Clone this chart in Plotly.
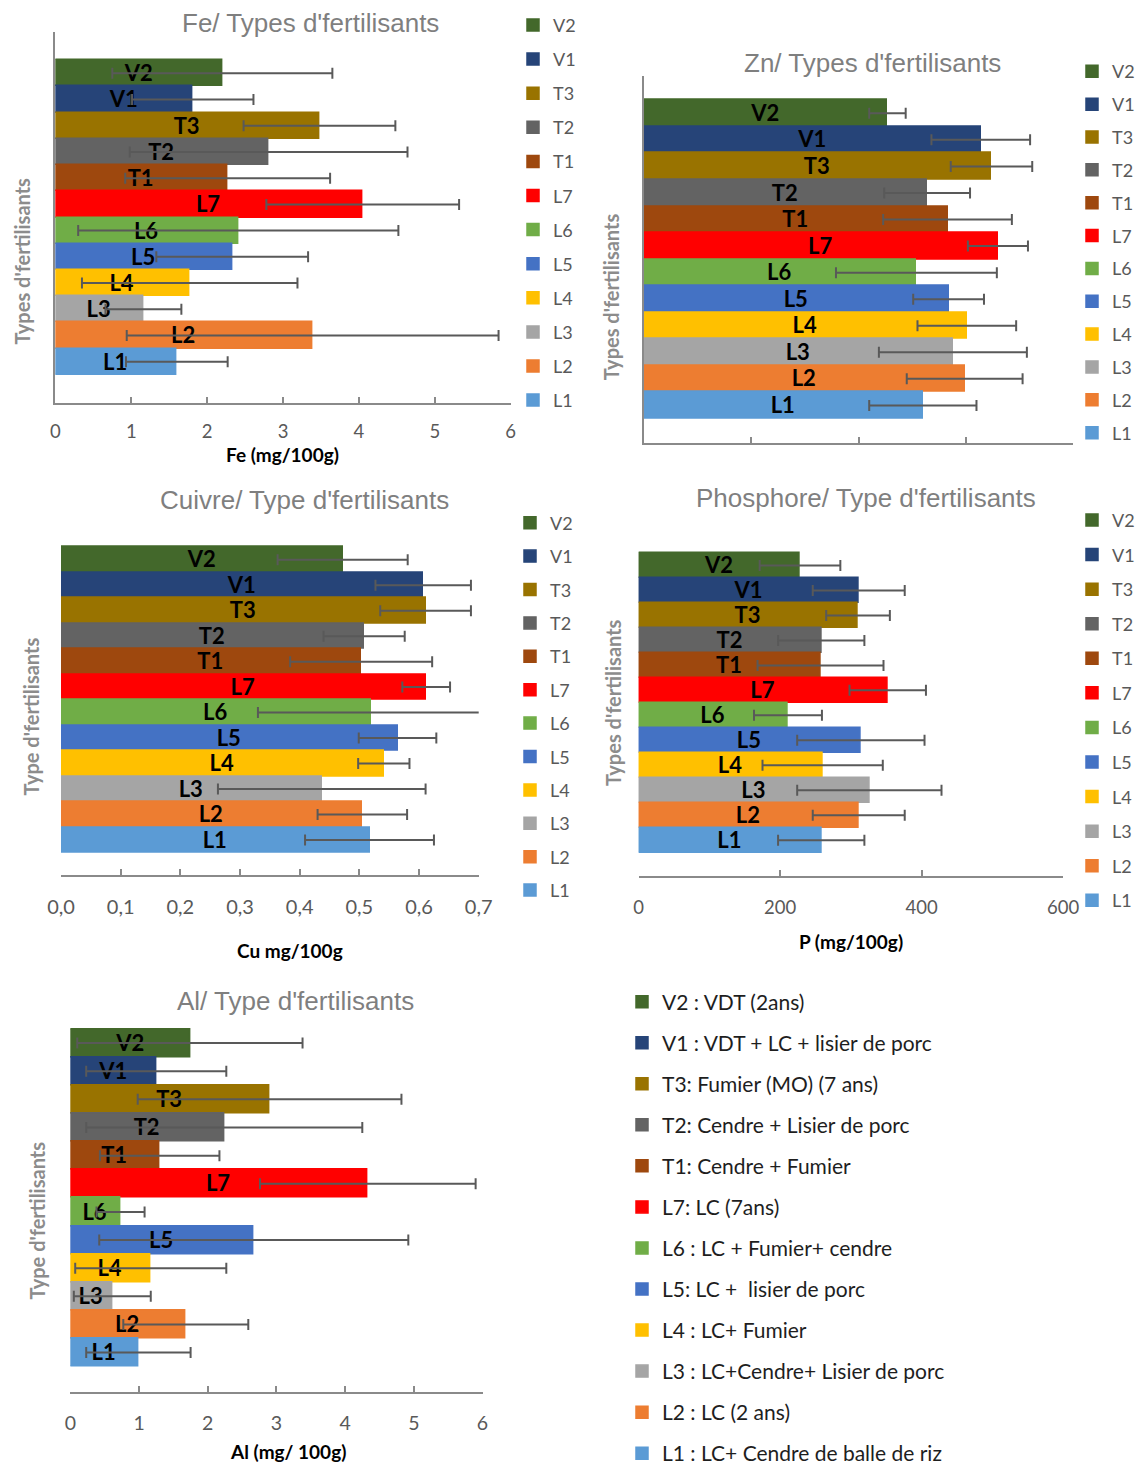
import plotly.graph_objects as go

# ---- data -----------------------------------------------------------------
codes = ["V2", "V1", "T3", "T2", "T1", "L7", "L6", "L5", "L4", "L3", "L2", "L1"]
colors = ["#43682B", "#264478", "#997300", "#636363", "#9E480E", "#FF0000",
          "#70AD47", "#4472C4", "#FFC000", "#A5A5A5", "#ED7D31", "#5B9BD5"]
descriptions = [
    "V2 : VDT (2ans)",
    "V1 : VDT + LC + lisier de porc",
    "T3: Fumier (MO) (7 ans)",
    "T2: Cendre + Lisier de porc",
    "T1: Cendre + Fumier",
    "L7: LC (7ans)",
    "L6 : LC + Fumier+ cendre",
    "L5: LC + \u00a0lisier de porc",
    "L4 : LC+ Fumier",
    "L3 : LC+Cendre+ Lisier de porc",
    "L2 : LC (2 ans)",
    "L1 : LC+ Cendre de balle de riz",
]

fe_mean = [2.20, 1.81, 3.48, 2.81, 2.27, 4.05, 2.41, 2.33, 1.77, 1.16, 3.39, 1.60]
fe_err = [1.45, 0.80, 1.00, 1.83, 1.35, 1.27, 2.11, 1.00, 1.42, 0.50, 2.45, 0.67]

zn_mean = [2.27, 3.14, 3.24, 2.64, 2.83, 3.30, 2.54, 2.84, 3.01, 2.88, 2.99, 2.60]
zn_err = [0.17, 0.46, 0.38, 0.40, 0.60, 0.28, 0.75, 0.33, 0.46, 0.69, 0.54, 0.50]

cu_mean = [0.472, 0.607, 0.611, 0.508, 0.503, 0.612, 0.519, 0.564, 0.541, 0.437, 0.505, 0.517]
cu_err = [0.109, 0.080, 0.076, 0.068, 0.119, 0.040, 0.189, 0.065, 0.043, 0.174, 0.075, 0.108]

p_mean = [228, 311, 310, 258, 257, 352, 211, 314, 260, 326, 311, 258]
p_err = [57, 65, 45, 61, 89, 54, 48, 90, 85, 102, 65, 61]

al_mean = [1.74, 1.25, 2.90, 2.24, 1.30, 4.33, 0.73, 2.67, 1.17, 0.61, 1.68, 0.99]
al_err = [1.64, 1.02, 1.92, 2.01, 0.87, 1.57, 0.35, 2.25, 1.10, 0.56, 0.91, 0.76]

# ---- page geometry --------------------------------------------------------
W, H = 1136, 1463
CAL = "Lato, Carlito, sans-serif"
ARIAL = "Liberation Sans, Arial, sans-serif"
AXIS_GREY = "#8a8a8a"
TICK_GREY = "#595959"
TITLE_GREY = "#7f7f7f"


def px_x(v):
    return v / W


def px_y(v):
    return 1 - v / H


panels = [
    dict(key="fe", mean=fe_mean, err=fe_err, box=(55.4, 32, 510.7, 403), pad=1.07,
         xrange=[0, 6], dtick=1, fmt="", ticksize=18.5, standoff=11, showlabels=True,
         yline=True,
         title="Fe/ Types d'fertilisants", title_xy=(310.5, 23),
         ytitle="Types d'fertilisants", ytitle_xy=(21, 261.5),
         xtitle="Fe (mg/100g)", xtitle_xy=(282.6, 454),
         legend=dict(left=513, top=6.8, gap=7.7), descr=False),
    dict(key="zn", mean=zn_mean, err=zn_err, box=(644, 75.7, 1073, 443), pad=0.915,
         xrange=[0, 4], dtick=1, fmt="", ticksize=18.5, standoff=12, showlabels=False,
         yline=True,
         title="Zn/ Types d'fertilisants", title_xy=(872.5, 63),
         ytitle="Types d'fertilisants", ytitle_xy=(610.5, 296.7),
         xtitle=None, xtitle_xy=None,
         legend=dict(left=1072, top=53.1, gap=6.45), descr=False),
    dict(key="cu", mean=cu_mean, err=cu_err, box=(61, 524.7, 478.7, 875), pad=0.875,
         xrange=[0, 0.7], dtick=0.1, fmt=".1f", ticksize=20, standoff=13, showlabels=True,
         yline=False,
         title="Cuivre/ Type d'fertilisants", title_xy=(304, 500),
         ytitle="Type d'fertilisants", ytitle_xy=(31.4, 716),
         xtitle="Cu mg/100g", xtitle_xy=(290, 950),
         legend=dict(left=510, top=504.5, gap=7.0), descr=False),
    dict(key="p", mean=p_mean, err=p_err, box=(638.7, 530, 1063.2, 875.7), pad=0.92,
         xrange=[0, 600], dtick=200, fmt="", ticksize=18.5, standoff=14, showlabels=True,
         yline=False,
         title="Phosphore/ Type d'fertilisants", title_xy=(865.5, 498),
         ytitle="Types d'fertilisants", ytitle_xy=(613, 703),
         xtitle="P (mg/100g)", xtitle_xy=(851, 941.7),
         legend=dict(left=1072, top=501.8, gap=8.17), descr=False),
    dict(key="al", mean=al_mean, err=al_err, box=(70.4, 1003.4, 482.5, 1392.3), pad=0.91,
         xrange=[0, 6], dtick=1, fmt="", ticksize=19.5, standoff=12, showlabels=True,
         yline=False,
         title="Al/ Type d'fertilisants", title_xy=(295.5, 1001),
         ytitle="Type d'fertilisants", ytitle_xy=(36.6, 1221),
         xtitle="Al (mg/ 100g)", xtitle_xy=(288, 1451.5),
         legend=dict(left=622, top=981.5, gap=10.75), descr=True),
]

fig = go.Figure()
layout_axes = {}
legends = {}
annotations = []

for i, p in enumerate(panels):
    n = i + 1
    sfx = "" if n == 1 else str(n)
    legend_id = "legend" if n == 1 else f"legend{n}"
    for j, code in enumerate(codes):
        fig.add_trace(go.Bar(
            x=[p["mean"][j]], y=[code], orientation="h",
            name=descriptions[j] if p["descr"] else code,
            marker=dict(color=colors[j], line=dict(width=1.5, color=colors[j])),
            text=[code], textposition="inside", insidetextanchor="middle",
            textangle=0, constraintext="none",
            textfont=dict(family=CAL, size=22, color="black", weight="bold"),
            error_x=dict(type="data", array=[p["err"][j]], symmetric=True,
                         color=TICK_GREY, thickness=2, width=5.5),
            xaxis=f"x{sfx}", yaxis=f"y{sfx}",
            legend=legend_id, legendgroup=f"{p['key']}_{code}",
            hoverinfo="x+name",
        ))

    x0, y0, x1, y1 = p["box"]
    layout_axes[f"xaxis{sfx}"] = dict(
        domain=[px_x(x0), px_x(x1)], anchor=f"y{sfx}", range=p["xrange"],
        dtick=p["dtick"], tick0=0, tickformat=p["fmt"],
        showgrid=False, zeroline=False,
        showline=True, linecolor=AXIS_GREY, linewidth=1.8,
        ticks="inside", ticklen=6, tickwidth=1.5, tickcolor=AXIS_GREY,
        showticklabels=p["showlabels"], ticklabelstandoff=p["standoff"],
        tickfont=dict(family=CAL, size=p["ticksize"], color=TICK_GREY),
        fixedrange=True,
    )
    layout_axes[f"yaxis{sfx}"] = dict(
        domain=[px_y(y1), px_y(y0)], anchor=f"x{sfx}", type="category",
        categoryorder="array", categoryarray=codes[::-1],
        range=[-0.5 - p["pad"], len(codes) - 0.5 + p["pad"]],
        showticklabels=False, ticks="", showgrid=False, zeroline=False,
        showline=p["yline"], linecolor=AXIS_GREY, linewidth=1.8,
        fixedrange=True,
    )

    lg = p["legend"]
    if p["descr"]:
        lfont = dict(family=CAL, size=21, color="#1e1e1e")
    else:
        lfont = dict(family=CAL, size=18, color=TICK_GREY)
    legends[legend_id] = dict(
        x=px_x(lg["left"]), y=px_y(lg["top"]), xanchor="left", yanchor="top",
        bgcolor="rgba(0,0,0,0)", borderwidth=0, font=lfont,
        traceorder="grouped", tracegroupgap=lg["gap"],
    )

    tx, ty = p["title_xy"]
    annotations.append(dict(
        text=p["title"], x=px_x(tx), y=px_y(ty), xref="paper", yref="paper",
        xanchor="center", yanchor="middle", showarrow=False,
        font=dict(family=ARIAL, size=26, color=TITLE_GREY)))
    yx, yy = p["ytitle_xy"]
    annotations.append(dict(
        text=p["ytitle"], x=px_x(yx), y=px_y(yy), xref="paper", yref="paper",
        xanchor="center", yanchor="middle", showarrow=False, textangle=-90,
        font=dict(family=CAL, size=20, color="#8c8c8c", weight="bold")))
    if p["xtitle"]:
        xx, xy = p["xtitle_xy"]
        annotations.append(dict(
            text=p["xtitle"], x=px_x(xx), y=px_y(xy), xref="paper", yref="paper",
            xanchor="center", yanchor="middle", showarrow=False,
            font=dict(family=CAL, size=19, color="black", weight="bold")))

fig.update_layout(
    width=W, height=H,
    margin=dict(l=0, r=0, t=0, b=0, pad=0, autoexpand=False),
    paper_bgcolor="white", plot_bgcolor="white",
    barmode="overlay", bargap=0,
    separators=", ",
    showlegend=True,
    annotations=annotations,
    **layout_axes,
    **legends,
)

fig.write_html("out.html")
